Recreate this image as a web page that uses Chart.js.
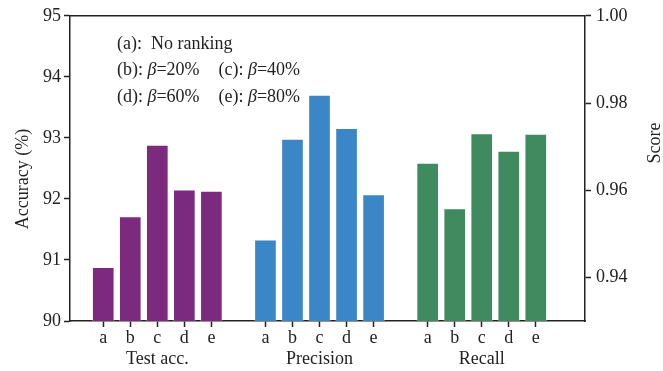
<!DOCTYPE html>
<html>
<head>
<meta charset="utf-8">
<script src="https://cdn.jsdelivr.net/npm/chart.js@4"></script>
<style>
html,body{margin:0;padding:0;background:#fff;}
#c{display:block;}
</style>
</head>
<body>
<canvas id="c" width="663" height="371"></canvas>
<script>
// ---- data ----
const groups = ['Test acc.', 'Precision', 'Recall'];
const letters = ['a', 'b', 'c', 'd', 'e'];
const testAcc = [90.88, 91.71, 92.88, 92.15, 92.13];
const precision = [0.9486, 0.9717, 0.9818, 0.9742, 0.9590];
const recall = [0.9662, 0.9558, 0.9730, 0.9690, 0.9729];
const accTicks = [90, 91, 92, 93, 94, 95];
const scoreTicks = [0.94, 0.96, 0.98, 1.00];
const legendLines = [
  [['(a):  No ranking']],
  [['(b): ', '=20%'], ['(c): ', '=40%']],
  [['(d): ', '=60%'], ['(e): ', '=80%']]
];

const FONT = '"Liberation Serif", "Times New Roman", serif';
const INK = '#222222';
const colors = ['#7B2A7E', '#3B86C6', '#3F8A5E'];

// slot index along x for each category (one empty slot between groups)
const slot = (g, i) => g * (letters.length + 1) + i;
const tickPos = [];
const tickLab = [];
groups.forEach((g, gi) => letters.forEach((l, i) => {
  tickPos.push(slot(gi, i));
  tickLab.push(i === Math.floor(letters.length / 2) ? [l, g] : l);
}));

const series = [testAcc, precision, recall];
const datasets = series.map((vals, gi) => ({
  label: groups[gi],
  data: vals.map((v, i) => ({ x: slot(gi, i), y: v })),
  yAxisID: gi === 0 ? 'y' : 'y2',
  backgroundColor: colors[gi],
  borderColor: 'rgba(255,255,255,0.35)',
  borderWidth: { top: 1, left: 1, right: 1, bottom: 0 },
  borderSkipped: 'bottom',
  barThickness: 22,
  grouped: false
}));

const decor = {
  id: 'decor',
  afterDraw(chart) {
    const ctx = chart.ctx;
    const a = chart.chartArea;
    ctx.save();
    // top frame line
    ctx.strokeStyle = INK;
    ctx.lineWidth = 1.5;
    ctx.beginPath();
    ctx.moveTo(a.left, a.top);
    ctx.lineTo(a.right, a.top);
    ctx.stroke();
    // legend text
    ctx.fillStyle = INK;
    ctx.textBaseline = 'alphabetic';
    const rows = [48.5, 74.5, 102];
    const cols = [117, 218.5];
    legendLines.forEach((row, r) => {
      row.forEach((parts, c) => {
        let x = cols[c];
        const y = rows[r];
        ctx.font = '18px ' + FONT;
        ctx.fillText(parts[0], x, y);
        x += ctx.measureText(parts[0]).width;
        if (parts.length > 1) {
          ctx.font = 'italic 18px ' + FONT;
          ctx.fillText('\u03B2', x, y);
          x += ctx.measureText('\u03B2').width;
          ctx.font = '18px ' + FONT;
          ctx.fillText(parts[1], x, y);
        }
      });
    });
    // axis titles
    ctx.font = '18px ' + FONT;
    ctx.textAlign = 'center';
    ctx.textBaseline = 'middle';
    ctx.save();
    ctx.translate(23, 179);
    ctx.rotate(-Math.PI / 2);
    ctx.fillText('Accuracy (%)', 0, 0);
    ctx.restore();
    ctx.save();
    ctx.translate(655, 143);
    ctx.rotate(-Math.PI / 2);
    ctx.fillText('Score', 0, 0);
    ctx.restore();
    ctx.restore();
  }
};

new Chart(document.getElementById('c'), {
  type: 'bar',
  data: { datasets },
  options: {
    responsive: false,
    animation: false,
    layout: { padding: { top: 14, left: 0, right: 0, bottom: 0 } },
    plugins: { legend: { display: false }, tooltip: { enabled: false } },
    scales: {
      x: {
        type: 'linear',
        min: -1.23,
        max: 17.82,
        offset: false,
        afterBuildTicks: s => { s.ticks = tickPos.map(v => ({ value: v })); },
        afterFit: s => { s.height = 50; },
        ticks: {
          autoSkip: false,
          maxRotation: 0,
          padding: 1,
          color: INK,
          font: { family: FONT, size: 18, lineHeight: 1.15 },
          callback: (v, i) => tickLab[i]
        },
        grid: { offset: false, drawOnChartArea: false, drawTicks: true, tickLength: 6, tickWidth: 1.5, tickColor: INK },
        border: { display: true, color: INK, width: 1.5 }
      },
      y: {
        position: 'left',
        min: accTicks[0],
        max: accTicks[accTicks.length - 1],
        afterBuildTicks: s => { s.ticks = accTicks.map(v => ({ value: v })); },
        afterFit: s => { s.width = 70; },
        ticks: { padding: 3, color: INK, font: { family: FONT, size: 18 }, callback: v => String(v) },
        grid: { drawOnChartArea: false, drawTicks: true, tickLength: 6, tickWidth: 1.5, tickColor: INK },
        border: { display: true, color: INK, width: 1.5 }
      },
      y2: {
        position: 'right',
        min: 0.93,
        max: 1.0,
        afterBuildTicks: s => { s.ticks = scoreTicks.map(v => ({ value: v })); },
        afterFit: s => { s.width = 78; },
        ticks: { padding: 5, color: INK, font: { family: FONT, size: 18 }, callback: v => Number(v).toFixed(2) },
        grid: { drawOnChartArea: false, drawTicks: true, tickLength: 6, tickWidth: 1.5, tickColor: INK },
        border: { display: true, color: INK, width: 1.5 }
      }
    }
  },
  plugins: [decor]
});
</script>
</body>
</html>
